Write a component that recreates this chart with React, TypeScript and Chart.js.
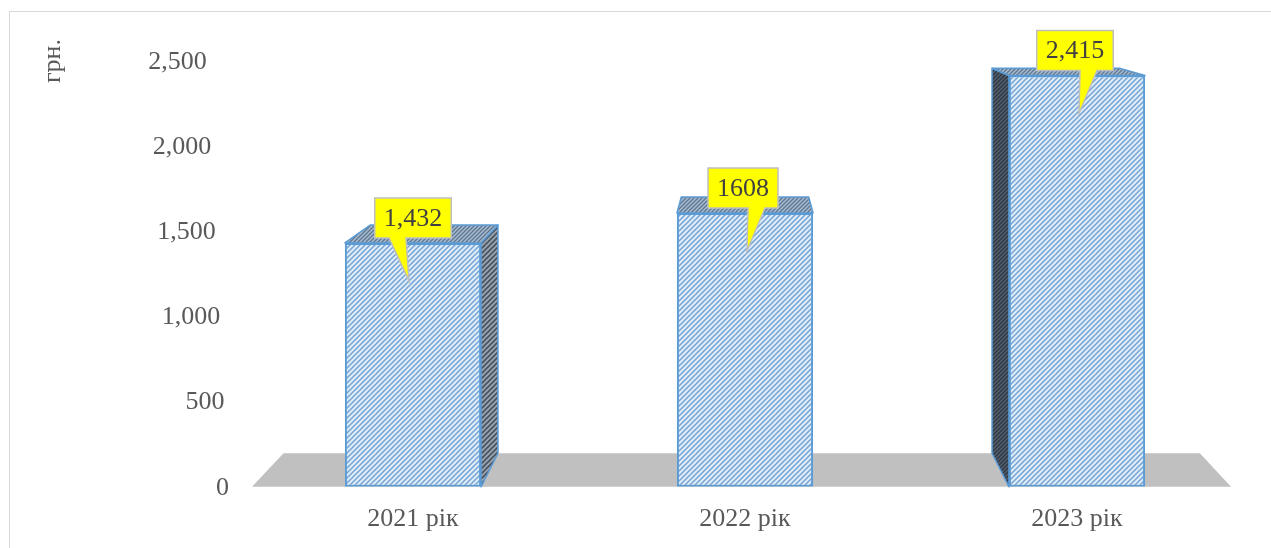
import React, { useEffect, useRef } from "react";
import { Chart, registerables } from "chart.js";

Chart.register(...registerables);

const categories = ["2021 рік", "2022 рік", "2023 рік"];
const values = [1432, 1608, 2415];
const valueLabels = ["1,432", "1608", "2,415"];
const yTicks = [0, 500, 1000, 1500, 2000, 2500];
const yTitle = "грн.";

const FONT = "'Liberation Serif', 'Times New Roman', serif";
const TEXT = "#595959";

function makePattern(ctx: CanvasRenderingContext2D, bg: string, fg: string, size = 5, lw = 1.5) {
  const c = document.createElement("canvas");
  c.width = size;
  c.height = size;
  const g = c.getContext("2d")!;
  g.fillStyle = bg;
  g.fillRect(0, 0, size, size);
  g.strokeStyle = fg;
  g.lineWidth = lw;
  g.beginPath();
  g.moveTo(0, size);
  g.lineTo(size, 0);
  g.moveTo(-size / 2, size / 2);
  g.lineTo(size / 2, -size / 2);
  g.moveTo(size / 2, size * 1.5);
  g.lineTo(size * 1.5, size / 2);
  g.stroke();
  return ctx.createPattern(c, "repeat")!;
}

export default function App() {
  const ref = useRef<HTMLCanvasElement>(null);

  useEffect(() => {
    const canvas = ref.current!;
    const ctx = canvas.getContext("2d")!;
    const frontPat = makePattern(ctx, "#e0edf9", "#74a3d4");
    const sideLightPat = makePattern(ctx, "#9ba6b2", "#46525f", 5, 1.6);
    const sideDarkPat = makePattern(ctx, "#56616f", "#2c3642", 4, 1.3);
    const topPat = makePattern(ctx, "#a9bdd2", "#5f7791", 4, 1.4);

    const K = 0.064;

    const deco = {
      id: "deco",
      beforeDatasetsDraw(chart: any) {
        const c = chart.ctx as CanvasRenderingContext2D;
        const area = chart.chartArea;
        const xs = chart.scales.x;
        const ys = chart.scales.y;
        const vx = xs.getPixelForValue(1);
        const vy = area.top - 98;
        const back = (px: number, py: number) => [px + K * (vx - px), py + K * (vy - py)];

        // border
        c.save();
        c.strokeStyle = "#d9d9d9";
        c.lineWidth = 1;
        c.strokeRect(9.5, 11.5, 1300, 600);
        c.restore();

        // floor
        const y0 = ys.getPixelForValue(0);
        const fl = area.left + 5;
        const fr = area.right - 12;
        const [bl, by] = back(fl, y0);
        const [br] = back(fr, y0);
        c.save();
        c.fillStyle = "#c0c0c0";
        c.beginPath();
        c.moveTo(fl, y0);
        c.lineTo(fr, y0);
        c.lineTo(br, by);
        c.lineTo(bl, by);
        c.closePath();
        c.fill();
        c.restore();

        // y tick labels (perspective offset)
        c.save();
        c.font = `26px ${FONT}`;
        c.fillStyle = TEXT;
        c.textAlign = "right";
        c.textBaseline = "middle";
        yTicks.forEach((v) => {
          const py = ys.getPixelForValue(v);
          const px = area.left - 18 - 0.052 * (area.bottom - py);
          c.fillText(v.toLocaleString("en-US"), px, py + 1);
        });
        c.restore();

        // y title
        c.save();
        c.font = `26px ${FONT}`;
        c.fillStyle = TEXT;
        c.translate(60, 61);
        c.rotate(-Math.PI / 2);
        c.textAlign = "center";
        c.textBaseline = "alphabetic";
        c.fillText(yTitle, 0, 0);
        c.restore();

        // side and top faces
        const meta = chart.getDatasetMeta(0);
        meta.data.forEach((el: any) => {
          const { x, y, width, base } = el.getProps(["x", "y", "width", "base"], true);
          const left = x - width / 2;
          const right = x + width / 2;
          c.save();
          c.strokeStyle = "#5b9bd5";
          c.lineWidth = 1.5;
          c.lineJoin = "round";
          if (x < vx - 20) {
            const [bx1, by1] = back(right, y);
            const [bx2, by2] = back(right, base);
            c.fillStyle = sideLightPat;
            c.beginPath();
            c.moveTo(right, y);
            c.lineTo(bx1, by1);
            c.lineTo(bx2, by2);
            c.lineTo(right, base);
            c.closePath();
            c.fill();
            c.stroke();
          } else if (x > vx + 20) {
            const [bx1, by1] = back(left, y);
            const [bx2, by2] = back(left, base);
            c.fillStyle = sideDarkPat;
            c.beginPath();
            c.moveTo(left, y);
            c.lineTo(bx1, by1);
            c.lineTo(bx2, by2);
            c.lineTo(left, base);
            c.closePath();
            c.fill();
            c.stroke();
          }
          const [tlx, tly] = back(left, y);
          const [trx, try_] = back(right, y);
          c.fillStyle = topPat;
          c.beginPath();
          c.moveTo(left, y);
          c.lineTo(right, y);
          c.lineTo(trx, try_);
          c.lineTo(tlx, tly);
          c.closePath();
          c.fill();
          c.stroke();
          c.restore();
        });
      },
      afterDatasetsDraw(chart: any) {
        const c = chart.ctx as CanvasRenderingContext2D;
        const meta = chart.getDatasetMeta(0);
        meta.data.forEach((el: any, i: number) => {
          const { x, y } = el.getProps(["x", "y"], true);
          const label = valueLabels[i];
          c.save();
          c.font = `26px ${FONT}`;
          const tw = c.measureText(label).width;
          const w = tw + 18;
          const h = 40;
          const cx = i === 0 ? x : x - 2;
          const rl = cx - w / 2;
          const rb = y - 5;
          const rt = rb - h;
          const side = i === 0 ? -1 : 1;
          const p1 = side < 0 ? cx - 24 : cx + 5;
          const p2 = side < 0 ? cx - 7 : cx + 22;
          const tipX = side < 0 ? cx - 4 : cx + 4;
          const tipY = y + 38;
          c.fillStyle = "#ffff00";
          c.strokeStyle = "#bfbfbf";
          c.lineWidth = 1.5;
          c.beginPath();
          c.moveTo(rl, rt);
          c.lineTo(rl + w, rt);
          c.lineTo(rl + w, rb);
          c.lineTo(p2, rb);
          c.lineTo(tipX, tipY);
          c.lineTo(p1, rb);
          c.lineTo(rl, rb);
          c.closePath();
          c.fill();
          c.stroke();
          c.fillStyle = "#404040";
          c.textAlign = "center";
          c.textBaseline = "middle";
          c.fillText(label, rl + w / 2, rt + h / 2 + 1);
          c.restore();
        });
      },
    };

    const chart = new Chart(canvas, {
      type: "bar",
      data: {
        labels: categories,
        datasets: [
          {
            data: values,
            backgroundColor: frontPat,
            borderColor: "#5b9bd5",
            borderWidth: 2,
            borderSkipped: false,
            categoryPercentage: 1,
            barPercentage: 0.41,
          },
        ],
      },
      options: {
        responsive: false,
        animation: false,
        devicePixelRatio: 1,
        layout: { padding: { left: 247, right: 28, top: 61, bottom: -4 } },
        plugins: { legend: { display: false }, tooltip: { enabled: false } },
        scales: {
          x: {
            grid: { display: false, drawTicks: false },
            border: { display: false },
            ticks: { color: TEXT, font: { family: FONT, size: 26 }, padding: 17 },
          },
          y: {
            display: false,
            min: 0,
            max: 2500,
            ticks: { stepSize: 500 },
          },
        },
      },
      plugins: [deco],
    });
    return () => chart.destroy();
  }, []);

  return (
    <div style={{ position: "absolute", left: 0, top: 0, width: 1271, height: 548, background: "#fff" }}>
      <canvas ref={ref} width={1271} height={548} style={{ display: "block" }} />
    </div>
  );
}
